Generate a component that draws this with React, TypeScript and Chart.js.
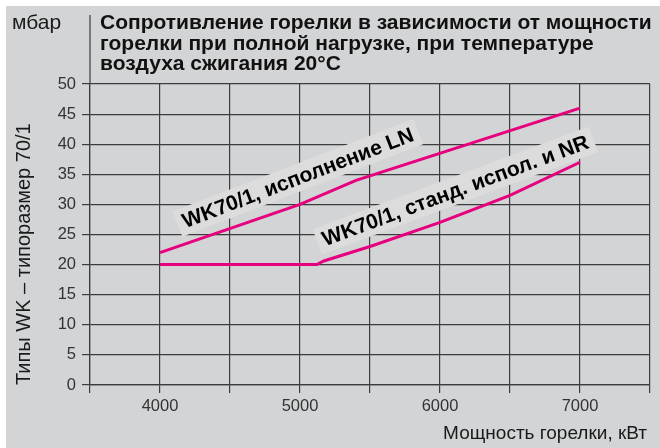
import React, { useEffect, useRef } from "react";
import { Chart, registerables } from "chart.js";

Chart.register(...registerables);

// ---- data ----
const lnPower = [4000, 5000, 5400, 7000];
const lnPressure = [22, 30, 34, 46];
const stdPower = [4000, 5120, 5170, 5500, 6000, 6500, 7000];
const stdPressure = [20, 20, 20.6, 23, 27, 31.5, 37];
const xTickLabels = [4000, 5000, 6000, 7000];
const titleLines = [
  "Сопротивление горелки в зависимости от мощности",
  "горелки при полной нагрузке, при температуре",
  "воздуха сжигания 20°C",
];
const unitLabel = "мбар";
const xTitle = "Мощность горелки, кВт";
const yTitle = "Типы WK – типоразмер 70/1";
const lnLabel = "WK70/1, исполнение LN";
const stdLabel = "WK70/1, станд. испол. и NR";

// label anchors (data space) and angles
const lnLabelAt = { x: 4985, y: 34.4, angle: 21 };
const stdLabelAt = { x: 6110, y: 32.3, angle: 20.4 };

const FONT = '"Liberation Sans", Arial, Helvetica, sans-serif';
const BG = "#d3d4d6";
const GRID = "#3c3c3c";
const MAGENTA = "#e6007e";

function drawLabel(chart: any, text: string, at: { x: number; y: number; angle: number }) {
  const ctx = chart.ctx as CanvasRenderingContext2D;
  const px = chart.scales.x.getPixelForValue(at.x);
  const py = chart.scales.y.getPixelForValue(at.y);
  ctx.save();
  ctx.translate(px, py);
  ctx.rotate((-at.angle * Math.PI) / 180);
  ctx.font = "bold 21px " + FONT;
  const w = ctx.measureText(text).width;
  ctx.fillStyle = "#dcdcdc";
  ctx.fillRect(-w / 2 - 6, -13.5, w + 12, 27);
  ctx.fillStyle = "#000";
  ctx.textAlign = "center";
  ctx.textBaseline = "middle";
  ctx.fillText(text, 0, 1);
  ctx.restore();
}

const decorPlugin = {
  id: "decor",
  beforeDraw(chart: any) {
    const ctx = chart.ctx as CanvasRenderingContext2D;
    ctx.save();
    ctx.fillStyle = "#ffffff";
    ctx.fillRect(0, 0, chart.width, chart.height);
    ctx.fillStyle = BG;
    ctx.fillRect(6, 6, chart.width - 6, chart.height - 6);
    ctx.restore();
  },
  afterDatasetsDraw(chart: any) {
    drawLabel(chart, lnLabel, lnLabelAt);
    drawLabel(chart, stdLabel, stdLabelAt);
  },
  afterDraw(chart: any) {
    const ctx = chart.ctx as CanvasRenderingContext2D;
    const area = chart.chartArea;
    ctx.save();
    // axis extension upward
    ctx.strokeStyle = GRID;
    ctx.lineWidth = 1.2;
    ctx.beginPath();
    ctx.moveTo(area.left, 15);
    ctx.lineTo(area.left, area.top);
    ctx.stroke();
    // unit
    ctx.fillStyle = "#1a1a1a";
    ctx.font = "21px " + FONT;
    ctx.textAlign = "left";
    ctx.textBaseline = "alphabetic";
    ctx.fillText(unitLabel, 12, 29);
    // title
    ctx.font = "bold 21px " + FONT;
    ctx.fillStyle = "#111";
    titleLines.forEach((t, i) => ctx.fillText(t, 100, 29 + i * 20.5));
    // x title
    ctx.font = "19px " + FONT;
    ctx.textAlign = "right";
    ctx.fillStyle = "#1a1a1a";
    ctx.fillText(xTitle, 647, 439);
    // y title
    ctx.font = "20px " + FONT;
    ctx.translate(30, area.bottom);
    ctx.rotate(-Math.PI / 2);
    ctx.textAlign = "left";
    ctx.fillText(yTitle, 0, 0);
    ctx.restore();
  },
};

export default function App() {
  const ref = useRef<HTMLCanvasElement | null>(null);
  useEffect(() => {
    if (!ref.current) return;
    const chart = new Chart(ref.current, {
      type: "line",
      data: {
        datasets: [
          {
            label: lnLabel,
            data: lnPower.map((x, i) => ({ x, y: lnPressure[i] })),
            borderColor: MAGENTA,
            borderWidth: 3,
            pointRadius: 0,
            fill: false,
            tension: 0,
          },
          {
            label: stdLabel,
            data: stdPower.map((x, i) => ({ x, y: stdPressure[i] })),
            borderColor: MAGENTA,
            borderWidth: 3,
            pointRadius: 0,
            fill: false,
            tension: 0,
          },
        ],
      },
      options: {
        animation: false,
        responsive: false,
        layout: { padding: { top: 84, right: 10, left: 0, bottom: 0 } },
        plugins: { legend: { display: false }, tooltip: { enabled: false }, title: { display: false } },
        scales: {
          x: {
            type: "linear",
            min: 3500,
            max: 7500,
            afterFit: (s: any) => {
              s.height = 63;
            },
            ticks: {
              stepSize: 500,
              autoSkip: false,
              maxRotation: 0,
              padding: 4,
              color: "#333",
              font: { family: FONT, size: 16.5 },
              callback: (v: any) => (xTickLabels.includes(Number(v)) ? String(v) : ""),
            },
            grid: { color: GRID, lineWidth: 1.2, tickLength: 8, drawTicks: true },
            border: { color: GRID, width: 1.2 },
          },
          y: {
            min: 0,
            max: 50,
            afterFit: (s: any) => {
              s.width = 90;
            },
            ticks: {
              stepSize: 5,
              padding: 6,
              color: "#333",
              font: { family: FONT, size: 16.5 },
            },
            grid: { color: GRID, lineWidth: 1.2, tickLength: 8, drawTicks: true },
            border: { color: GRID, width: 1.2 },
          },
        },
      },
      plugins: [decorPlugin],
    });
    return () => chart.destroy();
  }, []);
  return (
    <div style={{ position: "absolute", left: 0, top: 0, width: 660, height: 448 }}>
      <canvas ref={ref} width={660} height={448} style={{ display: "block" }} />
    </div>
  );
}
